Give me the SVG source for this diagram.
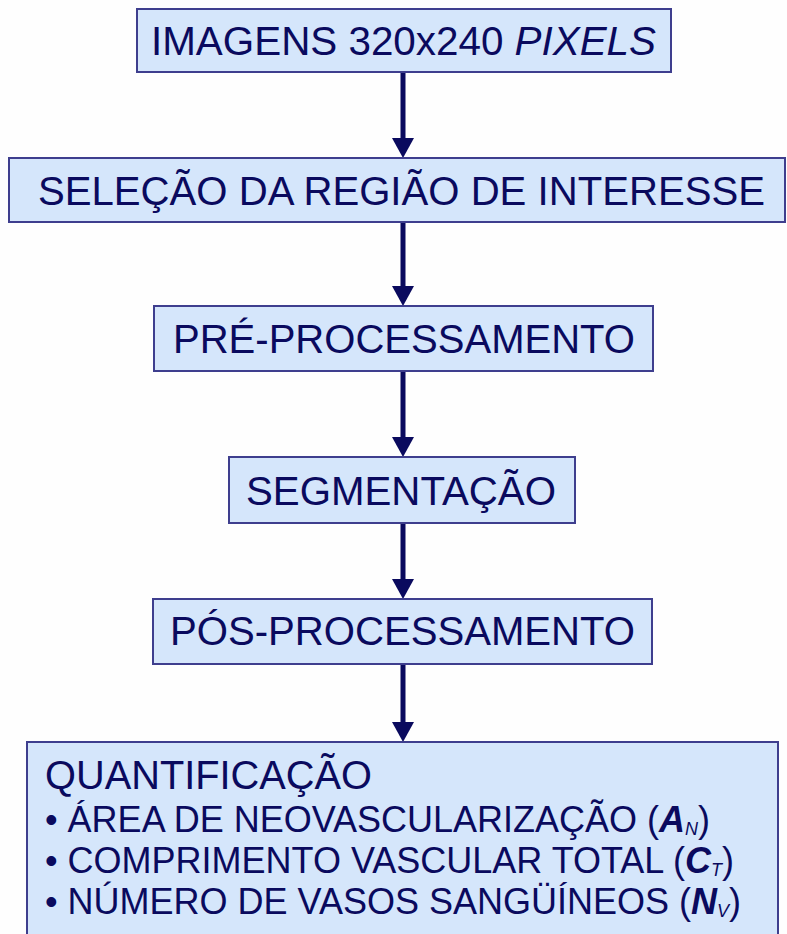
<svg xmlns="http://www.w3.org/2000/svg" width="787" height="934" viewBox="0 0 787 934">
<defs>
<style>
.box{fill:#d5e6fb;stroke:#3e3e8e;stroke-width:2}
.t{font-family:"Liberation Sans",Arial,sans-serif;font-size:40px;fill:#0a0a5e}
.s{font-family:"Liberation Sans",Arial,sans-serif;font-size:36px;fill:#0a0a5e}
.sub{font-style:italic;font-size:18px}
.conn{stroke:#0a0a5e;stroke-width:5;fill:none}
.head{fill:#0a0a5e}
</style>
</defs>
<rect width="787" height="934" fill="#fefefe"/>
<g id="connectors">
<line class="conn" x1="403" y1="72" x2="403" y2="140"/>
<path class="head" d="M392,138 L414,138 L403,158 Z"/>
<line class="conn" x1="403" y1="222" x2="403" y2="288"/>
<path class="head" d="M392,286 L414,286 L403,306 Z"/>
<line class="conn" x1="403" y1="371" x2="403" y2="439"/>
<path class="head" d="M392,437 L414,437 L403,457 Z"/>
<line class="conn" x1="403" y1="523" x2="403" y2="581"/>
<path class="head" d="M392,579 L414,579 L403,599 Z"/>
<line class="conn" x1="403" y1="664" x2="403" y2="724"/>
<path class="head" d="M392,722 L414,722 L403,742 Z"/>
</g>
<g id="n1">
<rect class="box" x="137" y="9" width="534" height="63"/>
<text class="t" x="151" y="55" textLength="505" lengthAdjust="spacingAndGlyphs">IMAGENS 320x240 <tspan font-style="italic">PIXELS</tspan></text>
</g>
<g id="n2">
<rect class="box" x="9" y="158" width="776" height="64"/>
<text class="t" x="38" y="205" textLength="727" lengthAdjust="spacingAndGlyphs">SELEÇÃO DA REGIÃO DE INTERESSE</text>
</g>
<g id="n3">
<rect class="box" x="154" y="306" width="499" height="65"/>
<text class="t" x="173" y="353" textLength="462" lengthAdjust="spacingAndGlyphs">PRÉ-PROCESSAMENTO</text>
</g>
<g id="n4">
<rect class="box" x="229" y="457" width="346" height="66"/>
<text class="t" x="246" y="505" textLength="310" lengthAdjust="spacingAndGlyphs">SEGMENTAÇÃO</text>
</g>
<g id="n5">
<rect class="box" x="153" y="599" width="499" height="65"/>
<text class="t" x="170" y="645" textLength="465" lengthAdjust="spacingAndGlyphs">PÓS-PROCESSAMENTO</text>
</g>
<g id="n6">
<rect class="box" x="27" y="742" width="751" height="200"/>
<text class="t" x="45" y="789" textLength="327" lengthAdjust="spacingAndGlyphs">QUANTIFICAÇÃO</text>
<text class="s" x="45" y="832">• ÁREA DE NEOVASCULARIZAÇÃO (<tspan font-weight="bold" font-style="italic">A</tspan><tspan class="sub" dy="3">N</tspan><tspan dy="-3">)</tspan></text>
<text class="s" x="45" y="873">• COMPRIMENTO VASCULAR TOTAL (<tspan font-weight="bold" font-style="italic">C</tspan><tspan class="sub" dy="3">T</tspan><tspan dy="-3">)</tspan></text>
<text class="s" x="45" y="914">• NÚMERO DE VASOS SANGÜÍNEOS (<tspan font-weight="bold" font-style="italic">N</tspan><tspan class="sub" dy="3">V</tspan><tspan dy="-3">)</tspan></text>
</g>
</svg>
